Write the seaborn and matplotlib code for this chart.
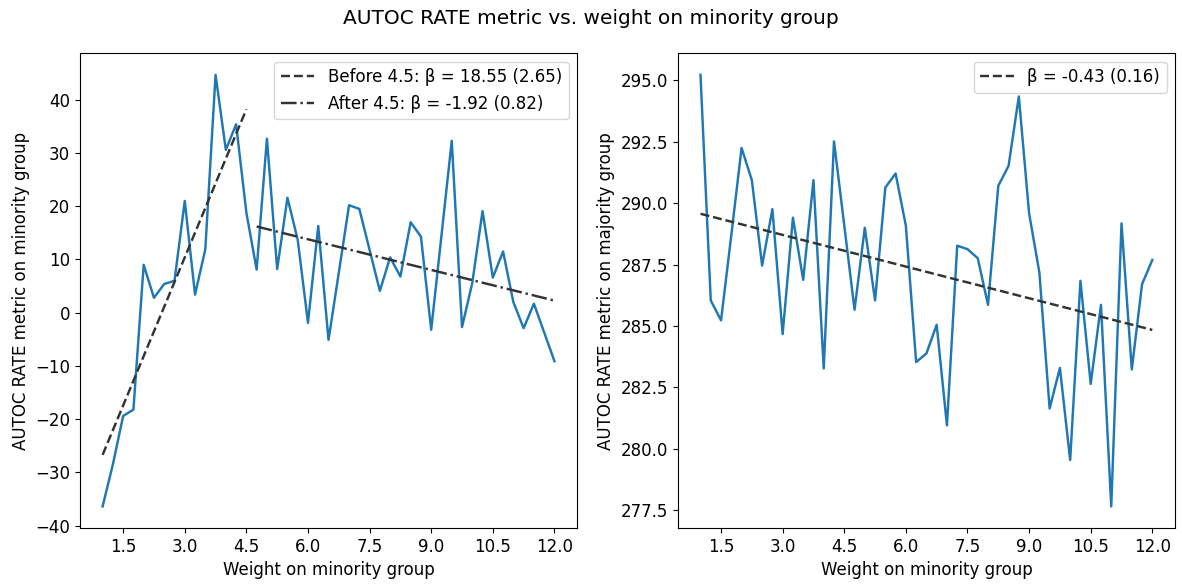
import numpy as np
import pandas as pd
import matplotlib
matplotlib.use("Agg")
import matplotlib.pyplot as plt
import seaborn as sns

weights = [1.0, 1.25, 1.5, 1.75, 2.0, 2.25, 2.5, 2.75, 3.0, 3.25, 3.5, 3.75, 4.0, 4.25, 4.5,
           4.75, 5.0, 5.25, 5.5, 5.75, 6.0, 6.25, 6.5, 6.75, 7.0, 7.25, 7.5, 7.75, 8.0, 8.25,
           8.5, 8.75, 9.0, 9.25, 9.5, 9.75, 10.0, 10.25, 10.5, 10.75, 11.0, 11.25, 11.5, 11.75, 12.0]

minority = [-36.4, -28.5, -19.4, -18.2, 9.0, 2.8, 5.4, 6.0, 21.0, 3.4, 11.9, 44.7, 30.6, 35.4, 18.8,
            8.1, 32.7, 8.2, 21.6, 13.7, -1.9, 16.3, -5.1, 7.5, 20.2, 19.5, 11.8, 4.1, 10.4, 6.8,
            17.0, 14.3, -3.2, 14.5, 32.3, -2.7, 5.6, 19.1, 6.6, 11.5, 2.0, -2.9, 1.7, -3.7, -9.1]

majority = [295.23, 286.04, 285.23, 288.7, 292.25, 290.94, 287.46, 289.76, 284.67, 289.41, 286.88,
            290.94, 283.27, 292.52, 289.1, 285.66, 289.0, 286.04, 290.64, 291.21, 289.08, 283.53,
            283.88, 285.05, 280.95, 288.27, 288.13, 287.76, 285.86, 290.71, 291.52, 294.35, 289.59,
            287.18, 281.64, 283.29, 279.54, 286.84, 282.64, 285.86, 277.65, 289.18, 283.23, 286.7,
            287.69]

# fitted regression coefficients (intercept, slope) and legend labels
breakpoint = 4.5
before_fit = (-45.25, 18.55)
after_fit = (25.32, -1.92)
majority_fit = (290.0, -0.43)
before_label = "Before 4.5: β = 18.55 (2.65)"
after_label = "After 4.5: β = -1.92 (0.82)"
majority_label = "β = -0.43 (0.16)"

xtick_values = [1.5, 3.0, 4.5, 6.0, 7.5, 9.0, 10.5, 12.0]

df = pd.DataFrame({"w": weights, "minority": minority, "majority": majority})

fig, axes = plt.subplots(1, 2, figsize=(11.82, 5.85), dpi=100)
fig.subplots_adjust(left=0.0677, right=0.994, top=0.909, bottom=0.0974, wspace=0.203)

fit_color = (0.2, 0.2, 0.2)
fs = 12

ax = axes[0]
sns.lineplot(data=df, x="w", y="minority", ax=ax, color="#1f77b4", linewidth=1.75)
xb = df["w"][df["w"] <= breakpoint].to_numpy()
xa = df["w"][df["w"] > breakpoint].to_numpy()
ax.plot(xb, before_fit[0] + before_fit[1] * xb, linestyle="--", color=fit_color,
        linewidth=1.75, label=before_label)
ax.plot(xa, after_fit[0] + after_fit[1] * xa, linestyle="-.", color=fit_color,
        linewidth=1.75, label=after_label)
ax.set_xticks(xtick_values)
ax.set_xlabel("Weight on minority group", fontsize=fs)
ax.set_ylabel("AUTOC RATE metric on minority group", fontsize=fs)
ax.tick_params(labelsize=fs)
ax.legend(loc="upper right", fontsize=fs)

ax = axes[1]
sns.lineplot(data=df, x="w", y="majority", ax=ax, color="#1f77b4", linewidth=1.75)
xall = df["w"].to_numpy()
ax.plot(xall, majority_fit[0] + majority_fit[1] * xall, linestyle="--", color=fit_color,
        linewidth=1.75, label=majority_label)
ax.set_xticks(xtick_values)
ax.set_xlabel("Weight on minority group", fontsize=fs)
ax.set_ylabel("AUTOC RATE metric on majority group", fontsize=fs)
ax.tick_params(labelsize=fs)
ax.legend(loc="upper right", fontsize=fs)

fig.suptitle("AUTOC RATE metric vs. weight on minority group", fontsize=14.5, y=0.985)

fig.savefig("out.png", dpi=100)
